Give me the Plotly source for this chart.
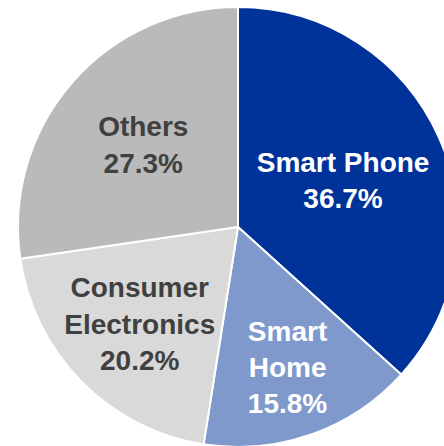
import plotly.graph_objects as go

# Market share by application segment
segments = ["Smart Phone", "Smart Home", "Consumer Electronics", "Others"]
display_names = ["Smart Phone", "Smart<br>Home", "Consumer<br>Electronics", "Others"]
shares = [36.7, 15.8, 20.2, 27.3]

colors = ["#003399", "#7f99cc", "#d9d9d9", "#bababa"]
text_colors = ["#ffffff", "#ffffff", "#404040", "#404040"]

# figure is a bit larger than the window so the pie gets cropped like the original
W, H = 476, 454
FONT_SIZE = 28

fig = go.Figure(go.Pie(
    labels=segments,
    values=shares,
    text=display_names,
    texttemplate="<b>%{text}<br>%{percent:.1%}</b>",
    textposition="inside",
    insidetextorientation="horizontal",
    sort=False,
    direction="clockwise",
    rotation=0,
    marker=dict(colors=colors, line=dict(color="white", width=2)),
    textfont=dict(family="Liberation Sans, Arial, sans-serif", size=FONT_SIZE, color=text_colors),
    domain=dict(x=[0, 1], y=[7 / H, 1 - 7 / H]),
    hoverinfo="label+percent",
))

fig.update_layout(
    width=W,
    height=H,
    margin=dict(l=0, r=0, t=0, b=0),
    showlegend=False,
    paper_bgcolor="white",
    # keep the labels at full size instead of shrinking them to fit
    uniformtext=dict(minsize=FONT_SIZE, mode="show"),
)

fig.write_html(
    "out.html",
    config={"displayModeBar": False},
    post_script="document.body.style.margin='0';document.body.style.overflow='hidden';",
)
